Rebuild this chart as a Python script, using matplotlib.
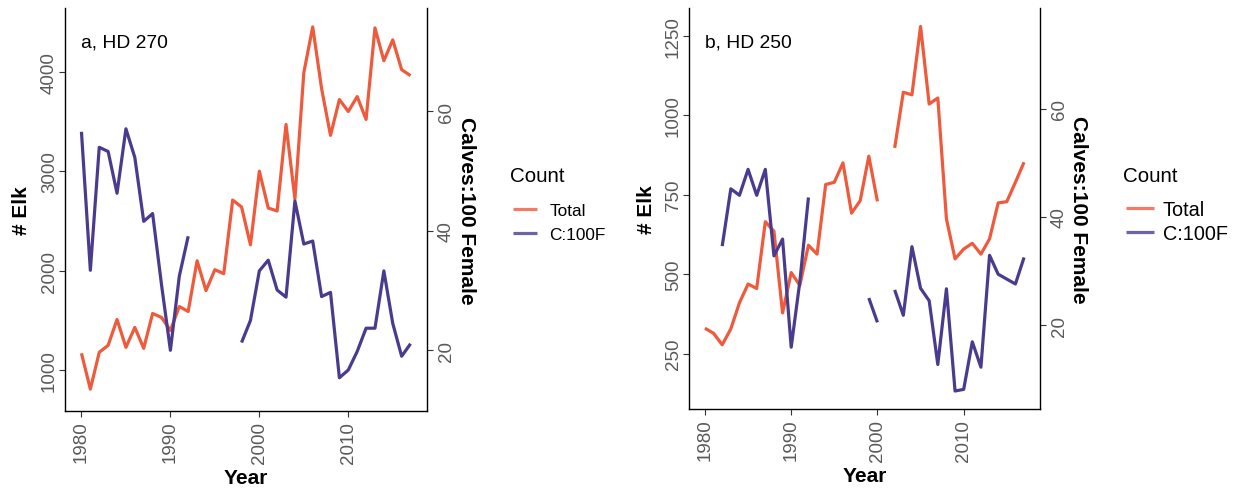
import numpy as np
import matplotlib
matplotlib.use("Agg")
import matplotlib.pyplot as plt

plt.rcParams["font.family"] = ["Liberation Sans", "DejaVu Sans"]

years = np.arange(1980, 2018)

# HD 270
total_270 = [1170, 810, 1180, 1250, 1510, 1230, 1430, 1220, 1570, 1530,
             1400, 1640, 1590, 2100, 1800, 2010, 1970, 2710, 2640, 2260,
             3000, 2630, 2600, 3470, 2720, 3990, 4450, 3830, 3360, 3720,
             3600, 3750, 3520, 4440, 4110, 4320, 4020, 3960]
calves_270 = [56.6, 33.4, 54.0, 53.3, 46.3, 57.1, 52.3, 41.6, 42.9, 31.0,
              20.0, 32.4, 39.1, None, None, None, None, None, 21.3, 25.0,
              33.3, 35.1, 30.1, 28.9, 45.0, 37.8, 38.3, 29.0, 29.7, 15.4,
              16.7, 19.8, 23.7, 23.7, 33.3, 24.5, 19.0, 21.1]

# HD 250
total_250 = [330, 314, 278, 328, 410, 469, 455, 665, 635, 378,
             505, 465, 591, 563, 782, 789, 850, 692, 731, 871,
             729, None, 897, 1072, 1064, 1279, 1035, 1054, 674, 548,
             579, 597, 563, 611, 724, 728, 789, 852]
calves_250 = [None, None, 34.6, 45.2, 44.0, 48.8, 44.0, 48.8, 32.8, 35.9,
              15.9, 28.0, 43.6, None, None, None, None, None, None, 25.0,
              20.5, None, 26.5, 21.8, 34.5, 26.8, 24.5, 12.7, 26.7, 7.8,
              8.1, 16.9, 12.2, 32.9, 29.4, 28.5, 27.6, 32.5]

panels = [
    {"label": "a, HD 270", "total": total_270, "calves": calves_270,
     "scale": 60, "ylim": (590, 4640), "yticks": [1000, 2000, 3000, 4000],
     "sec_ticks": [20, 40, 60], "rect": [65, 9, 427, 412],
     "leg_size": 12.4, "leg_space": 0.47, "leg_pad": 0.7,
     "leg_x": 513, "leg_y": 223.5, "title_x": 510},
    {"label": "b, HD 250", "total": total_250, "calves": calves_250,
     "scale": 17, "ylim": (76, 1337), "yticks": [250, 500, 750, 1000, 1250],
     "sec_ticks": [20, 40, 60], "rect": [689, 9, 1040, 410],
     "leg_size": 14.3, "leg_space": 0.22, "leg_pad": 0.45,
     "leg_x": 1126, "leg_y": 222.5, "title_x": 1123},
]

W, H = 1239, 489
fig = plt.figure(figsize=(W / 100, H / 100), dpi=100)

c_total = "#F05A3C"
c_calves = "#4B3B8F"
tick_grey = "#5A5A5A"

for p in panels:
    x0, y0, x1, y1 = p["rect"]
    ax = fig.add_axes([x0 / W, 1 - y1 / H, (x1 - x0) / W, (y1 - y0) / H])
    tot = np.array([np.nan if v is None else v for v in p["total"]], dtype=float)
    cal = np.array([np.nan if v is None else v for v in p["calves"]], dtype=float)

    l1, = ax.plot(years, tot, color=c_total, lw=2.3, label="Total",
                  solid_capstyle="butt")
    ax.set_xlim(1978.15, 2018.85)
    ax.set_ylim(*p["ylim"])
    ax.set_yticks(p["yticks"])
    ax.set_xticks([1980, 1990, 2000, 2010])

    ax2 = ax.twinx()
    l2, = ax2.plot(years, cal, color=c_calves, lw=2.3, label="C:100F",
                   solid_capstyle="butt")
    ax2.set_ylim(p["ylim"][0] / p["scale"], p["ylim"][1] / p["scale"])
    ax2.set_yticks(p["sec_ticks"])

    for a in (ax, ax2):
        a.spines["top"].set_visible(False)
        for s in a.spines.values():
            s.set_color("black")
            s.set_linewidth(1.0)
        a.tick_params(length=4, width=0.8, color="#333333",
                      labelcolor=tick_grey, labelsize=13.5)
    ax2.spines["left"].set_visible(False)
    ax2.spines["bottom"].set_visible(False)
    ax.spines["right"].set_visible(False)

    for t in ax.get_yticklabels():
        t.set_rotation(90)
        t.set_va("center")
    for t in ax2.get_yticklabels():
        t.set_rotation(90)
        t.set_va("center")
    for t in ax.get_xticklabels():
        t.set_rotation(90)
    ax.tick_params(axis="y", pad=1)
    ax2.tick_params(axis="y", pad=4)
    ax.tick_params(axis="x", pad=3)

    ax.set_ylabel("# Elk", fontsize=15, fontweight="bold", va="center")
    ax.yaxis.set_label_coords(-0.12, 0.5)
    ax.set_xlabel("Year", fontsize=15, fontweight="bold", va="center")
    ax.xaxis.set_label_coords(0.5, -0.165)
    ax2.set_ylabel("Calves:100 Female", fontsize=15, fontweight="bold",
                   rotation=-90, va="center")
    ax2.yaxis.set_label_coords(1.11, 0.5)

    ax.text(0.045, 0.915, p["label"], transform=ax.transAxes, fontsize=13.9,
            ha="left", va="center")

    # legend: title as separate text, entries as legend
    fig.text(p["title_x"] / W, 1 - 176 / H, "Count", fontsize=14.8,
             ha="left", va="center")
    leg = ax.legend(handles=[l1, l2], loc="center left",
                    bbox_to_anchor=(p["leg_x"] / W, 1 - p["leg_y"] / H),
                    bbox_transform=fig.transFigure, frameon=False,
                    fontsize=p["leg_size"], handlelength=1.4,
                    handletextpad=p["leg_pad"], labelspacing=p["leg_space"],
                    borderpad=0, borderaxespad=0)
    for h in leg.legend_handles:
        h.set_alpha(0.8)

fig.savefig("out.png", dpi=100, facecolor="white")
